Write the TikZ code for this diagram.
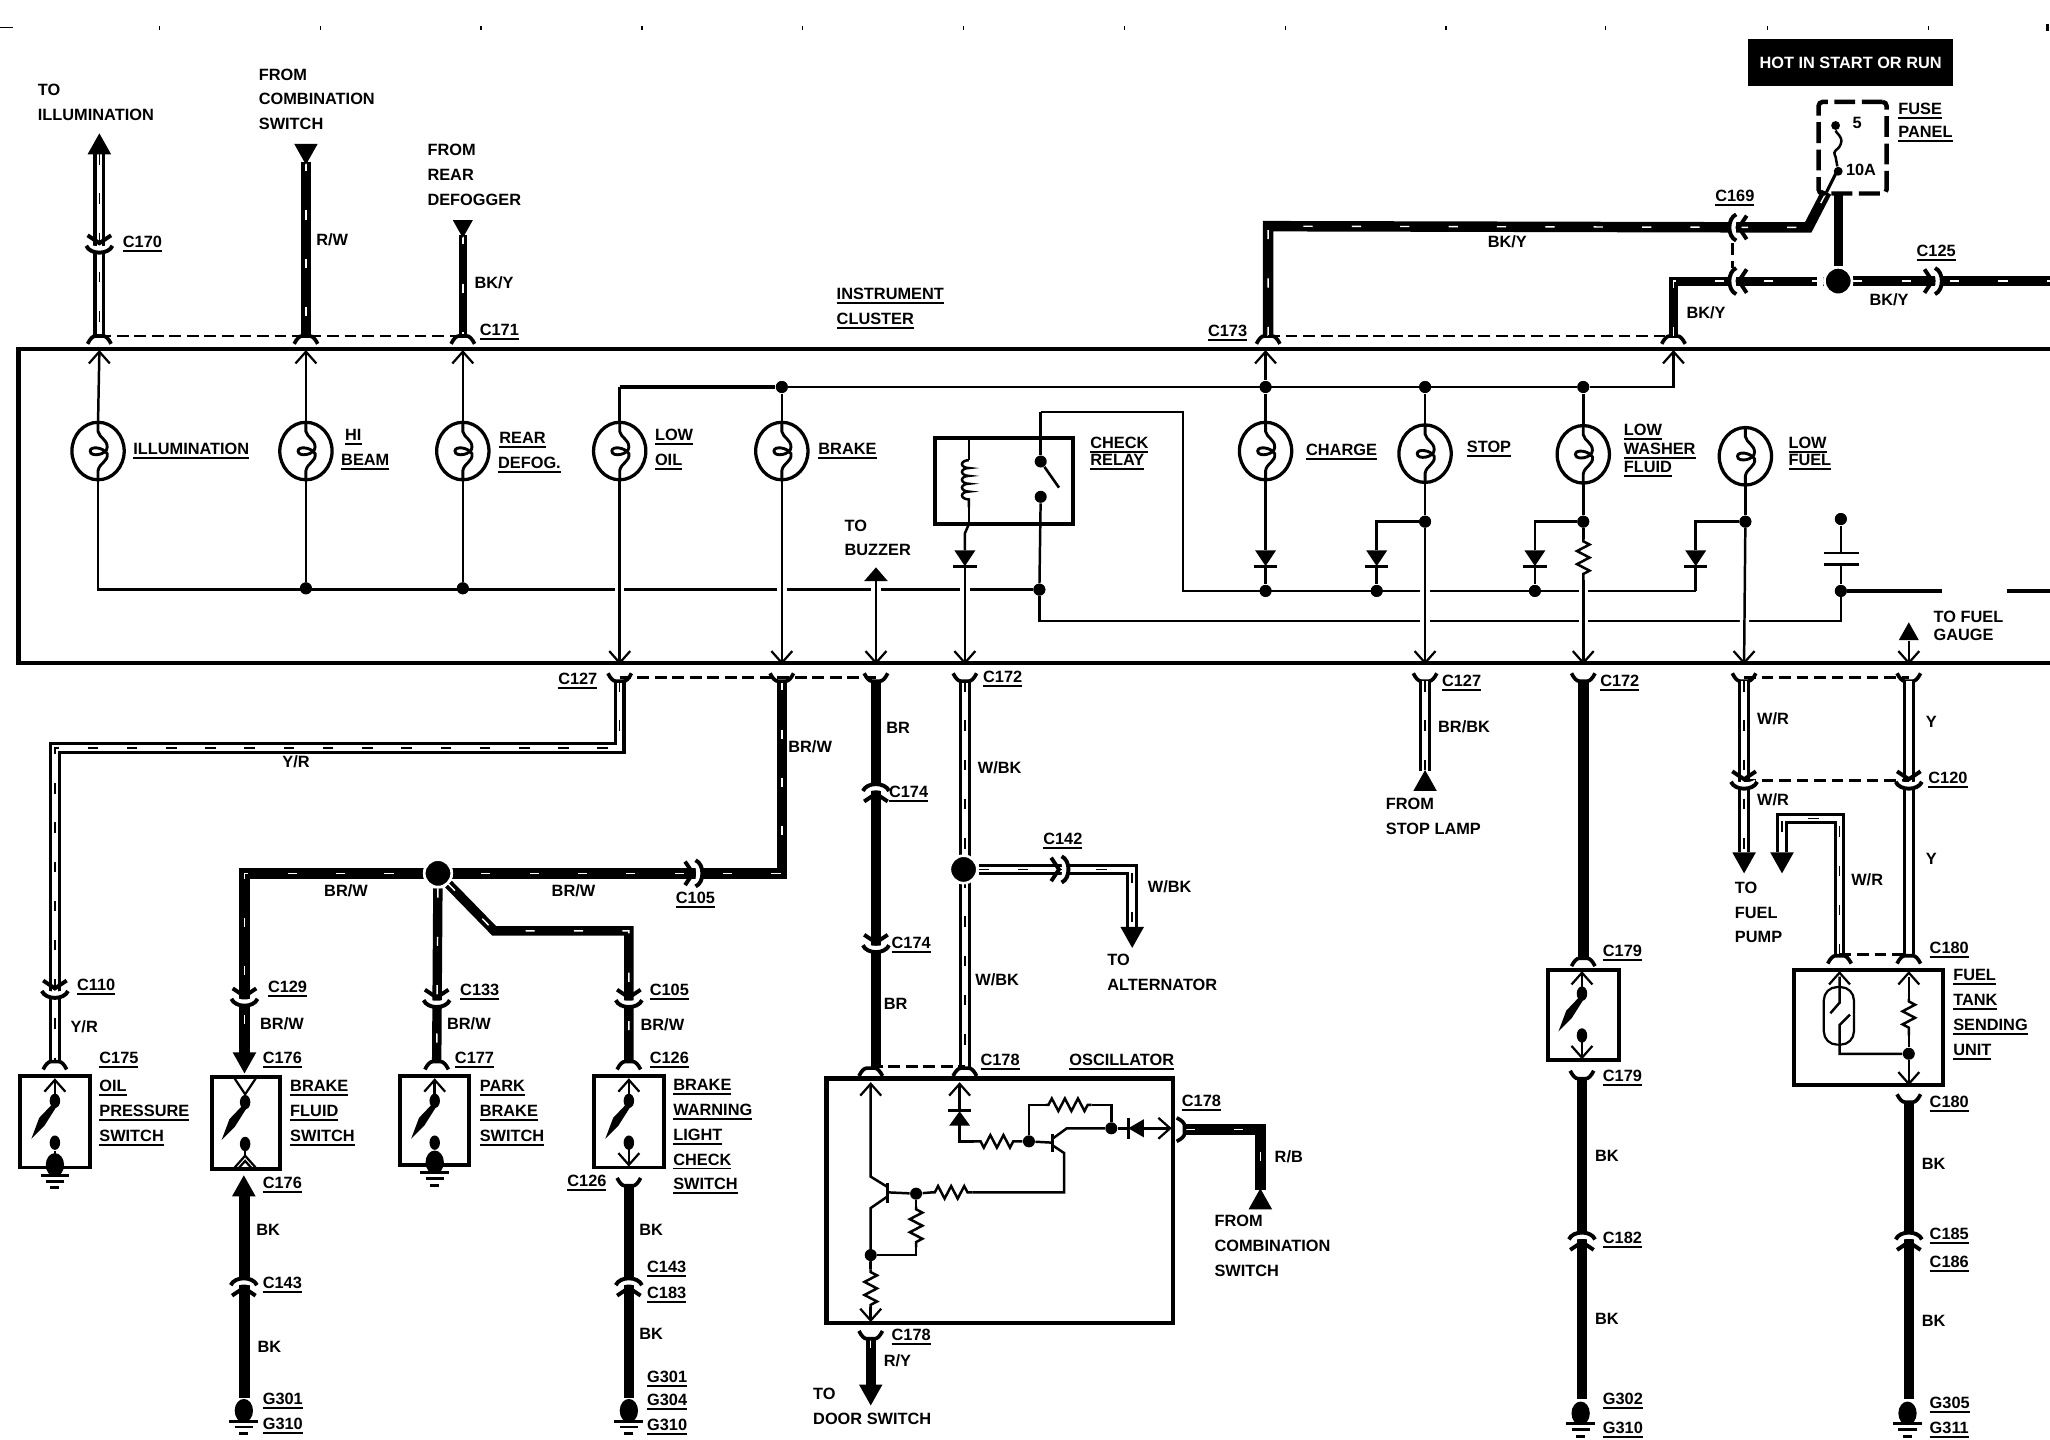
\documentclass[tikz,border=0pt]{standalone}
\usepackage{fontspec}
\setmainfont{Liberation Sans}
\usetikzlibrary{decorations.pathmorphing}
\newcommand\ul[1]{\setbox0=\hbox{#1}\leavevmode\rlap{\smash{\lower1.7pt\hbox{\vrule height .75pt depth 0pt width \wd0}}}\box0}
\tikzset{
  tx/.style={inner sep=0pt,outer sep=0pt,anchor=west,font=\fontsize{6.25}{9.5}\selectfont\bfseries},
  mtx/.style={inner sep=0pt,outer sep=0pt,anchor=north west,align=left,font=\fontsize{6.25}{9.5}\selectfont\bfseries},
  fine/.style={line width=.95pt},
  xing/.style={fine,preaction={draw,white,line width=3.6pt}},
  link/.style={line width=1.05pt,dash pattern=on 4.5pt off 2.2pt},
  solidw/.style={line width=4pt},
  tracew/.style={line width=4pt,postaction={draw,white,line width=.55pt,dash pattern=on 3.5pt off 15pt}},
  dblw/.style={line width=4.5pt,postaction={draw,white,line width=2.1pt}},
  dbltr/.style={line width=4.5pt,postaction={draw,white,line width=2.1pt},postaction={draw,black,line width=.6pt,dash pattern=on 4pt off 11pt}},
  cbox/.style={draw,line width=1.5pt,anchor=north west,inner sep=0pt,outer sep=0pt},
  dot/.style={circle,fill=black,inner sep=0pt,minimum size=4.6pt},
  hub/.style={circle,fill=black,draw=white,line width=1pt,inner sep=0pt,minimum size=10.5pt},
  resist/.style={fine,decorate,decoration={zigzag,amplitude=2.4pt,segment length=5pt,pre length=1pt,post length=1pt}},
  coilw/.style={fine,decorate,decoration={bumps,amplitude=2.6pt,segment length=6pt,mirror}},
  fork/.pic={\draw[line width=1.4pt] (-9,6) .. controls (-7,2) and (-5,0) .. (-3,0) -- (3,0) .. controls (5,0) and (7,2) .. (9,6);},
  oarr/.pic={\draw[line width=.85pt] (-8,9) -- (0,0) -- (8,9);},
  tri/.pic={\fill (0,0) -- (9,16) -- (-9,16) -- cycle;},
  joint/.pic={
    \draw[white,line width=1.8pt] (-9,3) .. controls (-5,0) and (5,0) .. (9,3);
    \draw[line width=1.5pt] (-10,3) .. controls (-7,-4) and (7,-4) .. (10,3);
    \draw[line width=1.5pt] (-9,11) -- (0,5) -- (9,11);},
  bulb/.pic={
    \draw[line width=1.25pt] (0,0) ellipse (20 and 22);
    \draw[line width=1.1pt] (0,-22) -- (0,-15) .. controls (1,-10) and (7,-9) .. (7,-3) .. controls (7,3) and (-6,5) .. (-6,0) .. controls (-6,-4) and (4,-3) .. (7,2) .. controls (8,8) and (1,9) .. (0,15) -- (0,22);},
  swit/.pic={
    \fill (0,19) ellipse (4 and 5.5);
    \fill (0,51) ellipse (4 and 5.5);
    \fill (-1.5,21) -- (1.5,23) -- (-8,38) -- (-18,48) -- (-12,32) -- cycle;},
  gnd/.pic={
    \fill (0,0) ellipse (7 and 9);
    \draw[line width=1.1pt] (-11,8) -- (11,8);
    \draw[line width=1.1pt] (-7,12.5) -- (7,12.5);
    \draw[line width=1.1pt] (-3.5,17.5) -- (3.5,17.5);},
  diod/.pic={
    \fill (-8,0) -- (8,0) -- (0,12) -- cycle;
    \draw[line width=1pt] (-9,12.5) -- (9,12.5);},
}
\begin{document}
\begin{tikzpicture}[x=.5pt,y=-.5pt]
\useasboundingbox (0,0) rectangle (1568,1101.4);
\fill[white] (0,0) rectangle (1568,1101.4);
% registration marks
\coordinate (regA) at (0,21); \coordinate (regB) at (10,21);
\draw[line width=.6pt] (regA) -- (regB);
\foreach \tk in {122,245,368,491,614,737,860,983,1106,1228,1352,1475}
  \draw[line width=.5pt] (\tk,20) -- (\tk,23);
\draw[line width=1pt] (1566,18) -- (1566,24);

% named points
\foreach \n/\x/\y in {
 a1/76/118,a2/76/257,a3/76/269,b1/234/124,b2/234/257,b3/234/269,c1/354/180,c2/354/257,c3/354/269,
 d1/474/507,e1/598/507,g1/670/444,g2/670/507,h1/738/433,h2/738/507,
 bt/1280/269,bs/1280/296,ct/968/269,
 s1/1090/507,s2/1211/507,s3/1334/507,fg1/1460/490,fg2/1460/507,
 nw1/14/267,ne1/1568/267,sw1/14/507,se1/1568/507,
 r1/741/335,r2/741/352,r3/741/388,r4/741/401,r5/741/421,
 q1/796/315,q2/905/315,q3/905/452,
 res1/1211/412,res2/1211/444,
 cap1/1408/401,cap2/1408/423,cap3/1408/432,
 low1/1297/421,low2/1297/433,mid1/1053/421,mid2/1053/433,was1/1174/421,was2/1174/433,cha1/968/421,cha2/968/433,
 far1/1485/452,far2/1535/452,far3/1568/452,
 bl1/42/521,bl2/42/572,bl3/474/521,bl4/42/812,
 br1/598/521,br2/598/668,br3/187/668,br4/187/806,
 pk1/334/812,wn1/378/712,wn2/481/712,wn3/481/812,
 brn1/670/521,brn2/670/816,wk1/738/521,wk2/738/816,
 alt1/866/665,alt2/866/710,
 st1/1090/521,st2/1090/590,ll1/1211/521,ll2/1211/733,ll3/1210/825,ll4/1210/1070,
 fp1/1334/521,fp2/1334/652,yy1/1460/521,yy2/1460/730,wr1/1407/730,wr2/1407/626,wr3/1363/626,wr4/1363/652,
 tk1/1460/843,tk2/1460/1070,
 of1/187/915,of2/187/1069,ww1/481/907,ww2/481/1069,
 top1/970/173,top2/970/257,top3/1383/174,top4/1397/147,
 sec1/1280/257,sec2/1280/215,sec3/1568/215,fb1/1406/148,fbb/1405/131,
 osc1/666/829,osc2/666/900,osc3/679/908,osc4/679/915,osc5/666/924,osc6/666/971,osc7/666/1000,osc8/666/1010,
 oa1/679/912,ob1/713/912,ob2/744/912,ob3/814/912,ob4/814/882,ob5/805/876,ob6/805/871,ob7/816/863,
 oc1/863/863,oc2/875/863,oc3/895/863,
 od1/805/874,od2/777/873,od3/745/873,od4/734/873,od5/734/860,od6/734/829,
 oe1/787/845,oe2/800/845,oe3/835/845,oe4/850/845,
 of7/700.7/923,of8/700.7/954,of9/700.7/960,
 rb1/907/864,rb2/964/864,rb3/964/910,ry1/666/1024,ry2/666/1060,
 ft1/1407/747,ft2/1407/767,ft3/1400/775,ft4/1415/776,ft5/1407/784,ft6/1407/806,
 ft7/1460/747,ft8/1460/764,ft9/1460/792,ft10/1460/829,
 vt1/1325/186,vt2/1325/205,fz1/1404/100,fz2/1406/127,
 lk1/474/518,lk2/670/518,lk3/1334/518,lk4/1460/518,lk5/666/816,lk6/738/816,lk7/1334/597,lk8/1460/597,
 e475/795/475}
  \coordinate (\n) at (\x,\y);

% horizontal signal lines inside the cluster (drawn first, crossings cut them)
\node[dot] (j450a) at (234,450) {};
\node[dot] (j450b) at (354,450) {};
\node[dot] (jrel) at (795,451) {};
\node[dot] (jcha) at (968,452) {};
\node[dot] (jsto) at (1053,452) {};
\node[dot] (jwas) at (1174,452) {};
\node[dot] (jcap) at (1408,452) {};
\node[dot] (jtop1) at (598,296) {};
\node[dot] (jtop2) at (968,296) {};
\node[dot] (jtop3) at (1090,296) {};
\node[dot] (jtop4) at (1211,296) {};
\node[dot] (jsw1) at (1090,399) {};
\node[dot] (jsw2) at (1211,399) {};
\node[dot] (jsw3) at (1335,399) {};
\node[dot] (jcapt) at (1408,397) {};
\coordinate (p1) at (75,367);
\coordinate (jt0) at (474,296);
\draw[fine] (p1) |- (jrel);
\draw[fine] (jrel) -- (e475) -| (jcap);
\draw[fine] (q1) -- (q2) -- (q3) -- (low2 |- q3);
\draw[fine] (low2 |- q3) -- (low2);
\draw[fine] (low1) |- (jsw3);
\draw[line width=1.2pt] (jcap) -- (far1);
\draw[line width=1.2pt] (far2) -- (far3);
\draw[line width=1.2pt] (jt0) -- (jtop1);
\draw[fine] (jtop1) -- (jtop4) -| (bt);

% verticals
\draw[fine] (a3) -- (75,323);
\draw[fine] (b3) -- (234,323);
\draw[fine] (c3) -- (354,323);
\draw[fine] (234,367) -- (j450a);
\draw[fine] (354,367) -- (j450b);
\draw[fine] (jt0) -- (474,323);
\draw[fine] (jtop1) -- (598,323);
\draw[xing] (474,367) -- (d1);
\draw[xing] (598,367) -- (e1);
\draw[xing] (g1) -- (g2);
\draw[xing] (h1) -- (h2);
\draw[fine] (ct) -- (jtop2) -- (968,325);
\draw[fine] (968,366) -- (cha1);
\draw[fine] (cha2) -- (jcha);
\draw[fine] (jtop3) -- (1090,325);
\draw[fine] (jtop4) -- (1211,325);
\draw[fine] (1090,369) -- (jsw1);
\draw[xing] (jsw1) -- (s1);
\draw[fine] (1211,369) -- (jsw2);
\draw[fine] (jsw2) -- (res1);
\draw[resist] (res1) -- (res2);
\draw[xing] (res2) -- (s2);
\draw[fine] (1335,371) -- (jsw3);
\draw[xing] (jsw3) -- (s3);
\draw[fine] (jsw1) -| (mid1);
\draw[fine] (mid2) -- (jsto);
\draw[fine] (jsw2) -| (was1);
\draw[fine] (was2) -- (jwas);
\draw[fine] (jcapt) -- (cap2);
\draw[fine] (cap3) -- (jcap);
\draw[line width=1.1pt] (1395,423) -- (1422,423);
\draw[line width=1.1pt] (1395,432) -- (1422,432);
\draw[fine] (fg1) -- (fg2);
\node[dot] (jrela) at (796,353) {};
\node[dot] (jrelb) at (796,380) {};
\draw[fine] (jrela) -- (q1);
\draw[fine] (jrelb) -- (jrel);
\draw[line width=1pt] (jrela) -- (810,373);
\draw[fine] (r1) -- (r2);
\draw[coilw] (r2) -- (r3);
\draw[fine] (r3) -- (r4);
\draw[fine] (r4) -- (738,408) -- (738,421);
\foreach \p in {jrel,jcha,jsto,jwas,jcap,j450a,j450b,jtop1,jtop2,jtop3,jtop4,jsw1,jsw2,jsw3,jcapt}
  \fill (\p) circle (4.5);

% relay and cluster frames
\node[cbox,minimum width=53pt,minimum height=33pt] (relay) at (715,335) {};
\draw[line width=1.7pt] (ne1) -- (nw1) -- (sw1) -- (se1);

% bulbs, diodes
\foreach \bx/\by in {75/345,234/345,354/345,474/345,598/345,968/345,1090/347,1211/347.5,1335/349}
  \pic at (\bx,\by) {bulb};
\pic at (738,421) {diod};
\pic at (968,421) {diod};
\pic at (1053,421) {diod};
\pic at (1174,421) {diod};
\pic at (1297,421) {diod};
\pic[yscale=.65] at (670,434) {tri};
\pic[scale=.85] at (1460,476) {tri};

% open arrows on the cluster edges
\foreach \ax in {76,234,354,968,1280} \pic at (\ax,269) {oarr};
\foreach \ax in {474,598,670,738,1090,1211,1334,1460} \pic[rotate=180] at (\ax,507) {oarr};

% top wiring
\draw[dbltr] (a1) -- (a2);
\pic at (76,102) {tri};
\draw[tracew] (b1) -- (b2);
\pic[rotate=180] at (234,126) {tri};
\draw[tracew,line width=3.2pt] (c1) -- (c2);
\pic[rotate=180,scale=.85] at (354,182) {tri};
\draw[link] (a2) -- (c2);
\foreach \ax in {76,234,354,970,1280} \pic at (\ax,257) {fork};
\pic[rotate=180] at (76,191) {joint};

% power feed
\draw[tracew] (top2) -- (top1) -- (top3) -- (top4);
\draw[line width=1.2pt] (top4) -- (fbb);
\draw[tracew,line width=3.4pt] (sec1) -- (sec2) -- (1395,215);
\node[hub] (jfeed) at (1406,215) {};
\draw[solidw,line width=3.4pt] (jfeed) -- (fb1);
\draw[tracew,line width=3.6pt] (jfeed) -- (sec3);
\fill[white] (1390,209) rectangle (1394,221);
\node[hub] at (1406,215) {};
\draw[link] (top2) -- (sec1);
\draw[link] (vt1) -- (vt2);
\pic[rotate=90] at (1325,174) {joint};
\pic[rotate=90] at (1325,215) {joint};
\pic[rotate=-90] at (1483,215) {joint};
\node[cbox,line width=1.7pt,dash pattern=on 8pt off 2.5pt,rounded corners=1.5pt,minimum width=26pt,minimum height=35pt] (fuse) at (1391,78) {};
\node[dot,minimum size=3.4pt] (fuA) at (1404,96) {};
\node[dot,minimum size=3.4pt] (fuB) at (1406,131) {};
\draw[fine] (fuA) .. controls (1404,102) and (1410,104) .. (1408,110) .. controls (1406,116) and (1401,114) .. (1404,120) -- (fuB);
\node[fill=black,text=white,inner sep=0pt,minimum width=78.5pt,minimum height=18pt,font=\fontsize{6.25}{9.5}\selectfont\bfseries] (hot) at (1415.5,48) {HOT IN START OR RUN};

% lower wiring, left half
\draw[dbltr] (bl3) |- (bl2) -- (bl4);
\draw[tracew] (br1) -- (br2) -- (br3) -- (br4);
\node[hub] (jbrw) at (335,668) {};
\draw[tracew,line width=3.6pt] (jbrw) -- (pk1);
\draw[tracew,line width=3.6pt] (jbrw) -- (wn1) -- (wn2) -- (wn3);
\node[hub] at (335,668) {};
\draw[solidw] (brn1) -- (brn2);
\draw[dbltr] (wk1) -- (wk2);
\node[hub] (jalt) at (737,665) {};
\draw[dbltr] (jalt) -- (alt1) -- (alt2);
\draw[link] (lk1) -- (lk2);
\draw[link] (lk5) -- (lk6);
\foreach \ax in {474,598,670,738,1090,1211,1334,1460} \pic[rotate=180] at (\ax,521) {fork};
\pic[rotate=-90] at (535,668) {joint};
\pic[rotate=-90] at (815,665) {joint};
\pic[rotate=180] at (42,761) {joint};
\pic[rotate=180] at (187,767) {joint};
\pic[rotate=180] at (334,768) {joint};
\pic[rotate=180] at (481,768) {joint};
\pic at (670,602) {joint};
\pic[rotate=180] at (670,726) {joint};
\pic[rotate=180] at (866,725) {tri};
\pic[rotate=180] at (187,821) {tri};
\pic at (42,812) {fork};
\pic at (334,812) {fork};
\pic at (481,812) {fork};
\pic at (666,817) {fork};
\pic at (738,817) {fork};

% switches
\node[cbox,minimum width=27pt,minimum height=35pt] (oilbox) at (15,823) {};
\node[cbox,minimum width=26pt,minimum height=35pt] (fluidbox) at (162,824) {};
\node[cbox,minimum width=26.5pt,minimum height=34pt] (parkbox) at (306,823) {};
\node[cbox,minimum width=27pt,minimum height=35pt] (warnbox) at (454,823) {};
\foreach \sx/\sy in {42/823,187.5/824,332.5/823,481/823} \pic at (\sx,\sy) {swit};
\foreach \sx/\sy in {42/823,332.5/823,481/823} {
  \pic at (\sx,\sy+3) {oarr};
  \draw[fine] (\sx,\sy+3) -- (\sx,\sy+18);
}
\draw[line width=.85pt] (179.5,825) -- (187.5,837) -- (195.5,825);
\draw[fine] (187.5,837) -- (187.5,845);
\draw[fine] (42,880) -- (42,890);
\draw[fine] (332.5,880) -- (332.5,890);
\draw[fine] (187.5,878) -- (187.5,884);
\draw[line width=.85pt] (179.5,893) -- (187.5,884) -- (195.5,893);
\draw[line width=.85pt] (183,893) -- (187.5,888) -- (192,893);
\draw[fine] (481,878) -- (481,891);
\pic[rotate=180] at (481,891) {oarr};
\pic at (42,891) {gnd};
\pic at (332.5,889) {gnd};

% lower grounded wires
\draw[solidw] (of1) -- (of2);
\pic at (186.5,899) {tri};
\pic at (186.5,980) {joint};
\pic at (186.5,1079) {gnd};
\draw[solidw] (ww1) -- (ww2);
\pic[rotate=180] at (481,907) {fork};
\pic at (481,980) {joint};
\pic at (481,1079) {gnd};

% oscillator
\node[cbox,line width=1.7pt,minimum width=132.5pt,minimum height=93.5pt] (oscbox) at (632,825) {};
\node[dot] (oa) at (700.7,913) {};
\node[dot] (ob) at (666,960) {};
\node[dot] (oc) at (787,873) {};
\node[dot] (od) at (850,863) {};
\draw[fine] (osc1) -- (osc2) -- (osc3);
\draw[fine] (osc4) -- (osc5) -- (osc6);
\draw[line width=1.1pt] (679,905) -- (679,920);
\draw[fine] (oa1) -- (oa) -- (ob1);
\draw[resist] (ob1) -- (ob2);
\draw[fine] (ob2) -- (ob3) -- (ob4) -- (ob5);
\draw[line width=1.1pt] (805,867) -- (805,881);
\draw[fine] (ob6) -- (ob7) -- (od);
\draw[fine] (od) -- (oc1);
\draw[fine] (oc2) -- (oc3);
\fill (863,863) -- (875,856) -- (875,870) -- cycle;
\draw[line width=1pt] (863,855) -- (863,871);
\pic[rotate=-90] at (oc3) {oarr};
\draw[fine] (od1) -- (oc) -- (od2);
\draw[resist] (od2) -- (od3);
\draw[fine] (od3) -- (od4) -- (od5);
\fill (734,850) -- (726,861) -- (742,861) -- cycle;
\draw[line width=1pt] (725,849.5) -- (743,849.5);
\draw[fine] (734,850) -- (od6);
\draw[fine] (oc) -- (oe1) -- (oe2);
\draw[resist] (oe2) -- (oe3);
\draw[fine] (oe3) -- (oe4) -- (od);
\draw[fine] (oa) -- (of7);
\draw[resist] (of7) -- (of8);
\draw[fine] (of8) -- (of9) -- (ob);
\draw[fine] (osc6) -- (ob);
\draw[resist] (osc6) -- (osc7);
\draw[fine] (osc7) -- (osc8);
\pic[rotate=180] at (osc8) {oarr};
\pic at (osc1) {oarr};
\pic at (od6) {oarr};
\draw[tracew] (rb1) -- (rb2) -- (rb3);
\pic[rotate=-90] at (906,864) {fork};
\pic at (964,909) {tri};
\draw[tracew] (ry1) -- (ry2);
\pic[rotate=180] at (666,1075) {tri};
\pic[rotate=180] at (666,1024) {fork};

% right half
\draw[dbltr] (st1) -- (st2);
\pic at (1090,589) {tri};
\draw[solidw] (ll1) -- (ll2);
\pic at (1211,733) {fork};
\node[cbox,minimum width=27pt,minimum height=34.5pt] (swbox) at (1184,742) {};
\pic at (1210,741) {swit};
\pic at (1210,744) {oarr};
\draw[fine] (1210,744) -- (1210,760);
\draw[fine] (1210,796) -- (1210,808);
\pic[rotate=180] at (1210,809) {oarr};
\draw[solidw] (ll3) -- (ll4);
\pic[rotate=180] at (1210,825) {fork};
\pic at (1210,945) {joint};
\pic at (1209,1081) {gnd};
\draw[dbltr] (fp1) -- (fp2);
\draw[dblw] (yy1) -- (yy2);
\draw[dbltr] (wr1) |- (wr3) -- (wr4);
\draw[link] (lk3) -- (lk4);
\draw[link] (lk7) -- (lk8);
\draw[link] (wr1) -- (yy2);
\pic[rotate=180] at (1334,601) {joint};
\pic[rotate=180] at (1460,601) {joint};
\pic[rotate=180] at (1334,668) {tri};
\pic[rotate=180] at (1363,668) {tri};
\pic at (1407,731) {fork};
\pic at (1460,731) {fork};
\node[cbox,line width=1.7pt,minimum width=57pt,minimum height=44pt] (tankbox) at (1372,742) {};
\node[dot] (tk) at (1460,806) {};
\draw[line width=.85pt,rounded corners=5pt] (1395,755) rectangle (1418,799);
\draw[fine] (ft1) -- (ft2) -- (ft3);
\draw[fine] (ft4) -- (ft5) -- (ft6) -- (tk);
\draw[fine] (ft7) -- (ft8);
\draw[resist] (ft8) -- (ft9);
\draw[fine] (ft9) -- (tk) -- (ft10);
\pic at (1407,744) {oarr};
\pic at (1460,744) {oarr};
\pic[rotate=180] at (1460,829) {oarr};
\draw[solidw] (tk1) -- (tk2);
\pic[rotate=180] at (1460,843) {fork};
\pic at (1460,945) {joint};
\pic at (1459,1081) {gnd};

% labels
\foreach \n/\x/\y/\t in {
 l1/94/185/\ul{C170}, l2/242/183/{R/W}, l3/363/216/{BK/Y}, l4/367/252/\ul{C171},
 l5/640/225/\ul{INSTRUMENT}, l6/640/244/\ul{CLUSTER},
 l7/924/253/\ul{C173}, l8/1312/150/\ul{C169}, l9/1138/185/{BK/Y}, l10/1466/192/\ul{C125},
 l11/1290/239/{BK/Y}, l12/1430/229/{BK/Y}, l13/1417/94/5, l14/1412/130/10A, l15/1452/83/\ul{FUSE}, l16/1452/101/\ul{PANEL},
 l17/102/343/\ul{ILLUMINATION}, l18/264/333/\ul{HI}, l19/261/352/\ul{BEAM}, l20/382/335/\ul{REAR}, l21/381/354/\ul{DEFOG.},
 l22/501/333/\ul{LOW}, l23/501/352/\ul{OIL}, l24/626/343/\ul{BRAKE}, l25/834/339/\ul{CHECK}, l26/834/352/\ul{RELAY},
 l27/999/344/\ul{CHARGE}, l28/1122/342/\ul{STOP}, l29/1242/329/\ul{LOW}, l30/1242/343/\ul{WASHER}, l31/1242/357/\ul{FLUID},
 l32/1368/339/\ul{LOW}, l33/1368/352/\ul{FUEL},
 l34/427/519/\ul{C127}, l35/216/583/{Y/R}, l36/603/571/{BR/W}, l37/517/687/\ul{C105}, l38/248/681/{BR/W}, l39/422/681/{BR/W},
 l40/59/753/\ul{C110}, l41/54/785/{Y/R}, l42/76/809/\ul{C175}, l43/205/755/\ul{C129}, l44/199/783/{BR/W}, l45/201/809/\ul{C176},
 l46/352/757/\ul{C133}, l47/342/783/{BR/W}, l48/348/809/\ul{C177}, l49/497/757/\ul{C105}, l50/490/784/{BR/W}, l51/497/809/\ul{C126},
 l52/201/905/\ul{C176}, l53/434/903/\ul{C126}, l54/196/941/BK, l55/201/981/\ul{C143}, l56/197/1030/BK, l57/201/1070/\ul{G301}, l58/201/1089/\ul{G310},
 l59/489/941/BK, l60/495/969/\ul{C143}, l61/495/989/\ul{C183}, l62/489/1020/BK, l63/495/1053/\ul{G301}, l64/495/1071/\ul{G304}, l65/495/1090/\ul{G310},
 l66/678/557/BR, l67/680/606/\ul{C174}, l68/682/721/\ul{C174}, l69/676/768/BR, l70/750/811/\ul{C178}, l71/818/811/\ul{OSCILLATOR},
 l72/752/518/\ul{C172}, l73/748/587/{W/BK}, l74/798/642/\ul{C142}, l75/878/678/{W/BK}, l76/746/749/{W/BK},
 l77/904/842/\ul{C178}, l78/975/885/{R/B}, l79/682/1021/\ul{C178}, l80/676/1041/{R/Y},
 l81/1103/521/\ul{C127}, l82/1224/521/\ul{C172}, l83/1100/556/{BR/BK}, l84/1344/550/{W/R}, l85/1473/552/Y, l86/1475/595/\ul{C120},
 l87/1344/612/{W/R}, l88/1416/673/{W/R}, l89/1473/657/Y, l90/1476/725/\ul{C180}, l91/1226/727/\ul{C179}, l92/1226/823/\ul{C179},
 l93/1220/884/BK, l94/1226/947/\ul{C182}, l95/1220/1009/BK, l96/1226/1070/\ul{G302}, l97/1226/1092/\ul{G310},
 l98/1476/843/\ul{C180}, l99/1470/890/BK, l100/1476/944/\ul{C185}, l101/1476/965/\ul{C186}, l102/1470/1010/BK, l103/1476/1073/\ul{G305}, l104/1476/1092/\ul{G311}}
  \node[tx] (\n) at (\x,\y) {\t};

\node[mtx] (m1) at (29,64.5) {TO\\ILLUMINATION};
\node[mtx] (m2) at (198,52.5) {FROM\\COMBINATION\\SWITCH};
\node[mtx] (m3) at (327,110.5) {FROM\\REAR\\DEFOGGER};
\node[mtx] (m4) at (646,397.5) {TO\\BUZZER};
\node[mtx,font=\fontsize{6.25}{6.8}\selectfont\bfseries] (m5) at (1479,467.5) {TO FUEL\\GAUGE};
\node[mtx] (m6) at (847,729.5) {TO\\ALTERNATOR};
\node[mtx] (m7) at (1060,610.5) {FROM\\STOP LAMP};
\node[mtx] (m8) at (1327,674.5) {TO\\FUEL\\PUMP};
\node[mtx] (m9) at (929,929.5) {FROM\\COMBINATION\\SWITCH};
\node[mtx] (m10) at (622,1061.5) {TO\\DOOR SWITCH};
\node[mtx] (m11) at (76,826.5) {\ul{OIL}\\\ul{PRESSURE}\\\ul{SWITCH}};
\node[mtx] (m12) at (222,826.5) {\ul{BRAKE}\\\ul{FLUID}\\\ul{SWITCH}};
\node[mtx] (m13) at (367,826.5) {\ul{PARK}\\\ul{BRAKE}\\\ul{SWITCH}};
\node[mtx] (m14) at (515,825.5) {\ul{BRAKE}\\\ul{WARNING}\\\ul{LIGHT}\\\ul{CHECK}\\\ul{SWITCH}};
\node[mtx] (m15) at (1494,741.5) {\ul{FUEL}\\\ul{TANK}\\\ul{SENDING}\\\ul{UNIT}};
\end{tikzpicture}
\end{document}
